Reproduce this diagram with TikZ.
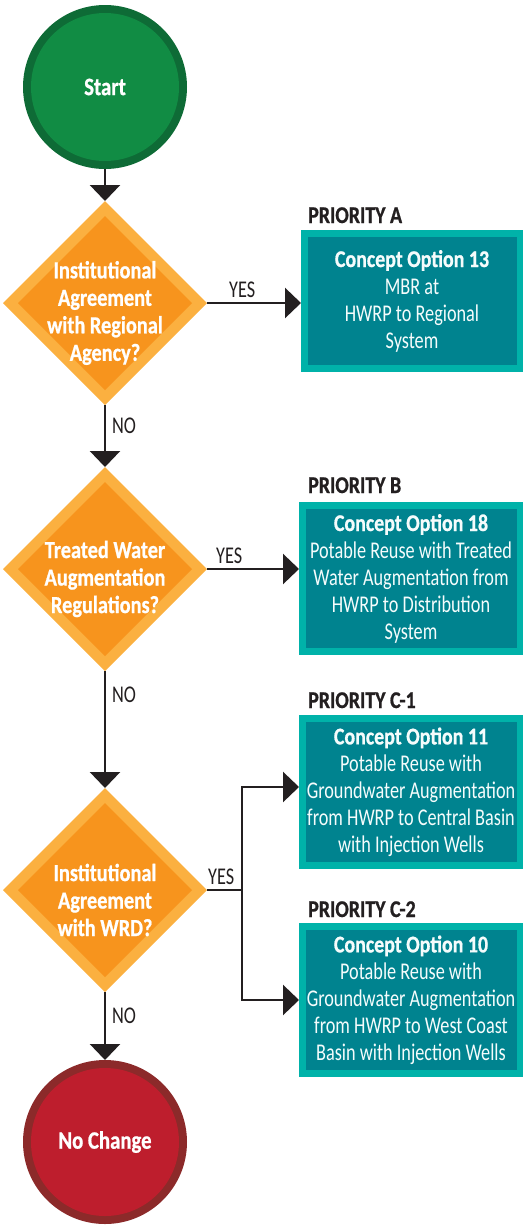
\documentclass[tikz,border=0pt]{standalone}
\usepackage{fontspec}
\setmainfont{Carlito}[FakeStretch=0.76]
\newfontfamily\cbold{Carlito}[FakeStretch=0.83, FakeBold=0.8]
\usetikzlibrary{shapes.geometric, arrows.meta}
\definecolor{ink}{HTML}{231F20}
\definecolor{grnO}{HTML}{0E6B36}
\definecolor{grnI}{HTML}{118C44}
\definecolor{redO}{HTML}{8C2A2A}
\definecolor{redI}{HTML}{BE1E2D}
\definecolor{orgO}{HTML}{FBB040}
\definecolor{orgI}{HTML}{F7941D}
\definecolor{tealO}{HTML}{00B2A9}
\definecolor{tealI}{HTML}{00838F}
\begin{document}
\begin{tikzpicture}[x=1pt,y=-1pt,
  conn/.style={line width=2.7pt, draw=ink},
  arr/.style={conn, -{Triangle[length=16pt,width=30pt]}},
  terminal/.style={circle, minimum size=164pt, inner sep=0pt, outer sep=0pt,
    text=white, font=\cbold\bfseries\fontsize{25}{28}\selectfont},
  startnode/.style={terminal, fill=grnO,
    path picture={\fill[grnI] (path picture bounding box.center) circle[radius=74pt];}},
  endnode/.style={terminal, fill=redO,
    path picture={\fill[redI] (path picture bounding box.center) circle[radius=74pt];}},
  decision/.style={diamond, aspect=1, minimum width=204pt, minimum height=204pt,
    inner sep=0pt, outer sep=0pt, fill=orgO,
    path picture={\fill[orgI] ([yshift=-15pt]path picture bounding box.north)
      -- ([xshift=-15pt]path picture bounding box.east)
      -- ([yshift=15pt]path picture bounding box.south)
      -- ([xshift=15pt]path picture bounding box.west) -- cycle;}},
  dtext/.style={text=white, align=center, inner sep=0pt, yshift=-10pt,
    font=\cbold\bfseries\fontsize{24.5}{27.5}\selectfont},
  option/.style={rectangle, minimum width=224pt, minimum height=154pt,
    inner sep=0pt, outer sep=0pt, fill=tealO, text=white!96!tealO, align=center,
    font=\fontsize{24}{27}\selectfont,
    path picture={\fill[tealI] ([shift={(7pt,7pt)}]path picture bounding box.south west)
      rectangle ([shift={(-6pt,-7pt)}]path picture bounding box.north east);}},
  prio/.style={anchor=base west, inner sep=0pt, text=ink,
    font=\cbold\bfseries\fontsize{24}{26}\selectfont},
  lab/.style={anchor=base west, inner sep=0pt, text=ink,
    font=\fontsize{24}{26}\selectfont}
]
\useasboundingbox (0,0) rectangle (523,1226);

% terminals
\node[startnode] (start) at (105,87) {Start};
\node[endnode] (stop) at (105,1142) {No Change};

% decisions
\node[decision, label={[dtext]center:{Institutional\\Agreement\\with Regional\\Agency?}}] (d1) at (105,303) {};
\node[decision, label={[dtext]center:{Treated Water\\Augmentation\\Regulations?}}] (d2) at (105,569) {};
\node[decision, label={[dtext]center:{Institutional\\Agreement\\with WRD?}}] (d3) at (105,890) {};

% options
\node[option, minimum width=222pt, minimum height=142pt] (oa) at (412,301)
  {{\cbold\bfseries Concept Option 13}\\MBR at\\HWRP to Regional\\System};
\node[option, minimum height=153pt] (ob) at (411,578.5)
  {{\cbold\bfseries Concept Option 18}\\Potable Reuse with Treated\\Water Augmentation from\\HWRP to Distribution\\System};
\node[option] (oc1) at (411,792)
  {{\cbold\bfseries Concept Option 11}\\Potable Reuse with\\Groundwater Augmentation\\from HWRP to Central Basin\\with Injection Wells};
\node[option] (oc2) at (411,1000)
  {{\cbold\bfseries Concept Option 10}\\Potable Reuse with\\Groundwater Augmentation\\from HWRP to West Coast\\Basin with Injection Wells};

% priority titles
\node[prio] (pa) at (308,223) {PRIORITY A};
\node[prio] (pb) at (308,493) {PRIORITY B};
\node[prio] (pc1) at (308,708) {PRIORITY C-1};
\node[prio] (pc2) at (308,917) {PRIORITY C-2};

% connectors
\draw[arr] (start.south) -- (d1.north);
\draw[arr] (d1.east) -- (d1.east -| oa.west);
\draw[arr] (d1.south) -- (d2.north);
\draw[arr] (d2.east) -- (d2.east -| ob.west);
\draw[arr] (d2.south) -- (d3.north);
\coordinate (br) at ([xshift=35pt]d3.east);
\draw[conn] (d3.east) -- (br);
\draw[arr] (br) |- ([yshift=5pt]oc1.west);
\draw[arr] (br) |- (oc2.west);
\draw[arr] (d3.south) -- (stop.north);

% connector labels
\node[lab] (yes1) at (229,297) {YES};
\node[lab] (yes2) at (216,563) {YES};
\node[lab] (yes3) at (208,884) {YES};
\node[lab] (no1) at (112,433) {NO};
\node[lab] (no2) at (112,702) {NO};
\node[lab] (no3) at (112,1023) {NO};
\end{tikzpicture}
\end{document}
